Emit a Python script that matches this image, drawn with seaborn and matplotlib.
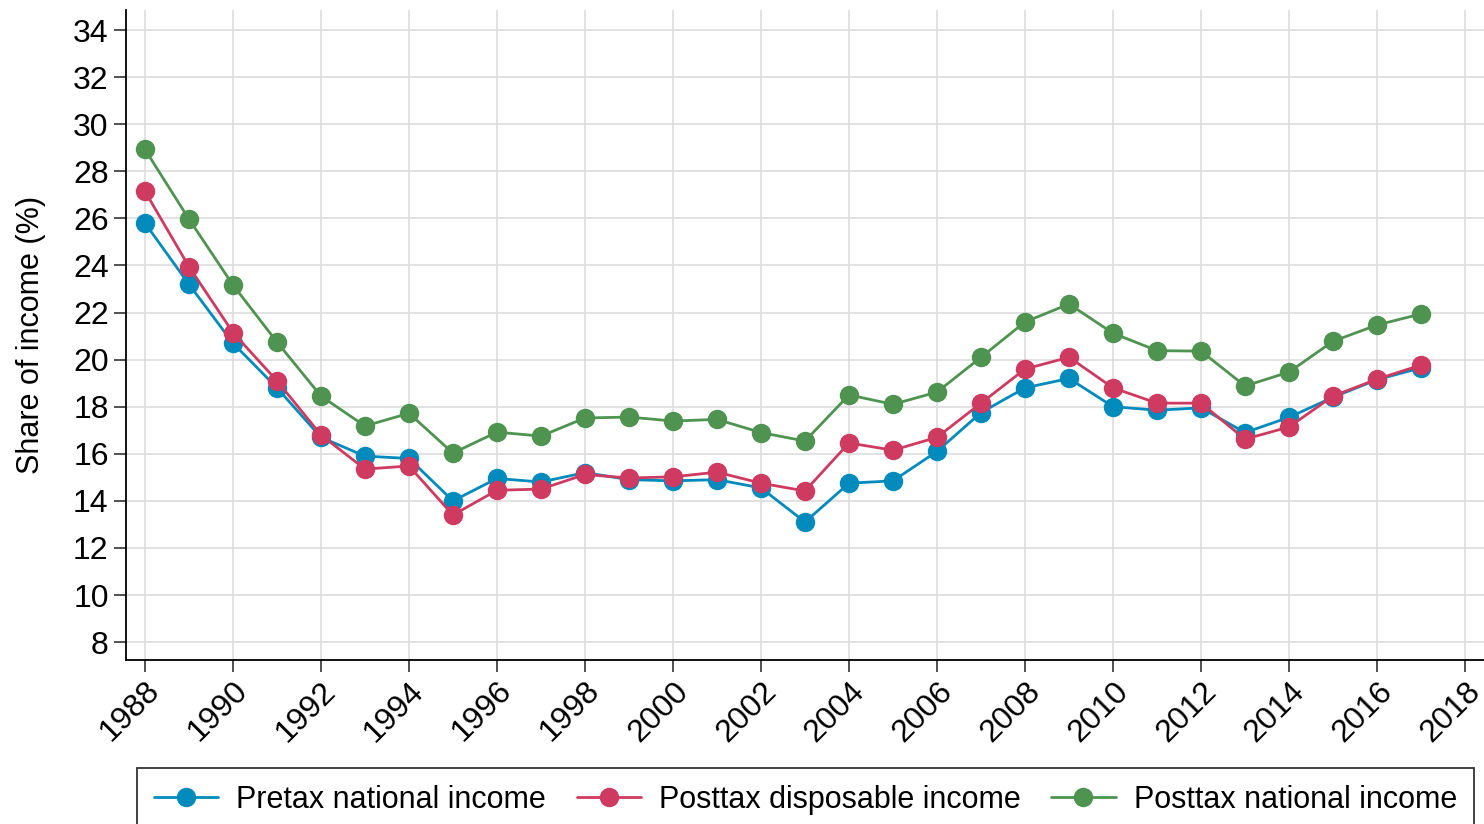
import numpy as np
import pandas as pd
import matplotlib
matplotlib.use("Agg")
import matplotlib.pyplot as plt
import seaborn as sns
from matplotlib.lines import Line2D

years = list(range(1988, 2018))
pretax = [25.8, 23.2, 20.7, 18.8, 16.7, 15.9, 15.8, 14.0, 14.95, 14.8, 15.2, 14.9, 14.85, 14.9, 14.55,
          13.1, 14.75, 14.85, 16.1, 17.75, 18.8, 19.2, 18.0, 17.85, 17.95, 16.9, 17.55, 18.4, 19.15, 19.65]
post_disp = [27.15, 23.95, 21.15, 19.1, 16.8, 15.35, 15.48, 13.4, 14.45, 14.5, 15.12, 14.97, 15.02, 15.22, 14.75,
             14.42, 16.46, 16.15, 16.7, 18.15, 19.6, 20.1, 18.8, 18.15, 18.15, 16.62, 17.14, 18.45, 19.17, 19.77]
post_nat = [28.93, 25.97, 23.17, 20.75, 18.45, 17.18, 17.72, 16.03, 16.92, 16.75, 17.52, 17.56, 17.39, 17.46, 16.9,
            16.54, 18.5, 18.1, 18.62, 20.1, 21.6, 22.36, 21.12, 20.38, 20.36, 18.88, 19.47, 20.78, 21.47, 21.94]
series = ["Pretax national income", "Posttax disposable income", "Posttax national income"]
colors = ["#008BBC", "#CF3A60", "#4E9350"]
yticks = list(range(8, 35, 2))
xticks = list(range(1988, 2019, 2))

df = pd.concat([
    pd.DataFrame({"year": years, "value": v, "series": s})
    for v, s in zip([pretax, post_disp, post_nat], series)
])

sns.set_theme(style="whitegrid")
plt.rcParams['font.family'] = ['Liberation Sans', 'DejaVu Sans']
plt.rcParams['text.color'] = 'black'
plt.rcParams['axes.labelcolor'] = 'black'

FS = 22
TFS = 23
MS = 14
LW = 2.0

fig = plt.figure(figsize=(14.84, 8.24), dpi=100)
ax = fig.add_axes([126/1484, 1 - 660/824, (1484-126)/1484, (660-10)/824])

sns.lineplot(data=df, x="year", y="value", hue="series", hue_order=series,
             palette=colors, marker="o", markersize=MS, markeredgewidth=0,
             linewidth=LW, ax=ax, legend=False)

ax.set_xlim(1987.57, 2018.43)
ax.set_ylim(7.24, 34.85)
ax.set_xticks(xticks)
ax.set_yticks(yticks)
ax.set_xticklabels([str(t) for t in xticks], rotation=45, ha="right", rotation_mode="anchor", fontsize=TFS)
ax.set_yticklabels([str(t) for t in yticks], fontsize=TFS)
ax.set_xlabel("")
ax.set_ylabel("Share of income (%)", fontsize=FS, labelpad=19, color="black")
ax.grid(True, color="#DDDDDD", linewidth=1.2)
for side in ["top", "right"]:
    ax.spines[side].set_visible(False)
for side in ["left", "bottom"]:
    ax.spines[side].set_color("black")
    ax.spines[side].set_linewidth(1.3)
ax.tick_params(axis="both", direction="out", length=8.5, width=1.2, color="#333333",
               bottom=True, left=True, labelcolor="black")
ax.tick_params(axis="x", pad=3)
ax.tick_params(axis="y", pad=4)

handles = [Line2D([0], [0], color=c, marker="o", markersize=MS, markeredgewidth=0, linewidth=LW)
           for c in colors]
leg = fig.legend(handles, series, loc="upper left", bbox_to_anchor=(137/1484, 1 - 768/824),
                 ncol=3, frameon=True, fontsize=FS, fancybox=False, borderpad=0.55,
                 handlelength=2.1, columnspacing=1.0, handletextpad=0.6, borderaxespad=0,
                 labelcolor="black")
leg.get_frame().set_edgecolor("black")
leg.get_frame().set_linewidth(1.3)

fig.savefig("out.png", dpi=100)
